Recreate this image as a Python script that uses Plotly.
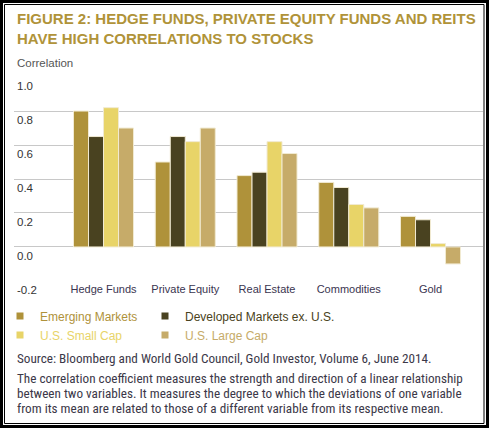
import plotly.graph_objects as go

categories = ["Hedge Funds", "Private Equity", "Real Estate", "Commodities", "Gold"]
series_names = ["Emerging Markets", "Developed Markets ex. U.S.", "U.S. Small Cap", "U.S. Large Cap"]
emerging = [0.80, 0.50, 0.42, 0.38, 0.18]
developed = [0.65, 0.65, 0.44, 0.35, 0.16]
small_cap = [0.82, 0.62, 0.62, 0.25, 0.02]
large_cap = [0.70, 0.70, 0.55, 0.23, -0.10]
series_values = [emerging, developed, small_cap, large_cap]
colors = ["#AF923A", "#494220", "#E8D468", "#C6AB69"]
legend_ids = ["legend", "legend2", "legend3", "legend4"]
ytick_vals = [1.0, 0.8, 0.6, 0.4, 0.2, 0.0, -0.2]
ytick_text = ["1.0", "0.8", "0.6", "0.4", "0.2", "0.0", "-0.2"]

title_lines = ["FIGURE 2: HEDGE FUNDS, PRIVATE EQUITY FUNDS AND REITS",
               "HAVE HIGH CORRELATIONS TO STOCKS"]
source_text = "Source: Bloomberg and World Gold Council, Gold Investor, Volume 6, June 2014."
note_lines = [
    "The correlation coefficient measures the strength and direction of a linear relationship",
    "between two variables. It measures the degree to which the deviations of one variable",
    "from its mean are related to those of a different variable from its respective mean.",
]

W, H = 489, 428
L, R, T, B = 14, 483, 77, 281


def px(x):
    return (x - L) / (R - L)


def py(y):
    return (B - y) / (B - T)


fig = go.Figure()
for name, vals, c in zip(series_names, series_values, colors):
    fig.add_trace(go.Bar(x=categories, y=vals, name=name, showlegend=False,
                         marker=dict(color=c, line=dict(color="#F1EAD2", width=1))))
for name, c, lg in zip(series_names, colors, legend_ids):
    fig.add_trace(go.Scatter(x=[None], y=[None], mode="markers", legend=lg,
                             name=f'<span style="color:{c}">{name}</span>',
                             marker=dict(symbol="square", size=7, color=c)))

narrow = "Roboto Condensed, Liberation Sans Narrow, DejaVu Sans Condensed, Roboto, sans-serif"
sans = "Liberation Sans, Arial, sans-serif"

annotations = []
for i, line in enumerate(title_lines):
    annotations.append(dict(x=px(15), y=py(19 + 19 * i), xref="paper", yref="paper", text=f"<b>{line}</b>",
                            showarrow=False, xanchor="left", yanchor="middle",
                            font=dict(family=sans, size=15, color="#B09339")))
for v, t in zip(ytick_vals, ytick_text):
    annotations.append(dict(x=px(15), y=v, xref="paper", yref="y", text=t, showarrow=False,
                            xanchor="left", yanchor="middle", yshift=-9,
                            font=dict(family=sans, size=11.5, color="#333333")))
annotations.append(dict(x=px(15), y=py(63), xref="paper", yref="paper", text="Correlation",
                        showarrow=False, xanchor="left", yanchor="middle",
                        font=dict(family=sans, size=11.5, color="#555555")))
annotations.append(dict(x=px(15), y=py(358), xref="paper", yref="paper", text=source_text,
                        showarrow=False, xanchor="left", yanchor="middle",
                        font=dict(family=narrow, size=13.2, color="#3B3848")))
for i, line in enumerate(note_lines):
    annotations.append(dict(x=px(15), y=py(378 + 15 * i), xref="paper", yref="paper", text=line,
                            showarrow=False, xanchor="left", yanchor="middle",
                            font=dict(family=narrow, size=13.2, color="#3B3848")))

shapes = [
    dict(type="rect", xref="paper", yref="paper", x0=px(1.5), x1=px(487.5), y0=py(1.5), y1=py(426.5),
         line=dict(color="black", width=3)),
    dict(type="rect", xref="paper", yref="paper", x0=px(4.5), x1=px(484), y0=py(4.5), y1=py(423.5),
         line=dict(color="black", width=1)),
]

legend_common = dict(orientation="h", xref="container", yref="container", xanchor="left",
                     yanchor="middle", font=dict(family=sans, size=12),
                     itemwidth=30, tracegroupgap=0, bgcolor="rgba(0,0,0,0)")
legend_pos = {"legend": (0, 316), "legend2": (145, 316), "legend3": (0, 335), "legend4": (145, 335)}
legend_layout = {k: dict(x=x / W, y=1 - y / H, **legend_common) for k, (x, y) in legend_pos.items()}

fig.update_layout(
    width=W, height=H,
    margin=dict(l=L, r=W - R, t=T, b=H - B, pad=0, autoexpand=False),
    paper_bgcolor="white", plot_bgcolor="white",
    barmode="group", bargap=0.266, bargroupgap=0,
    xaxis=dict(range=[-1.095, 4.642], showgrid=False, zeroline=False, showline=False,
               tickfont=dict(family=sans, size=11, color="#3A3550"), ticks=""),
    yaxis=dict(range=[-0.2005, 1.0005], tickvals=ytick_vals, showticklabels=False,
               showgrid=True, gridcolor="#C8C8C8", gridwidth=1, zeroline=False, showline=False),
    annotations=annotations,
    shapes=shapes,
    **legend_layout,
)

fig.write_html("out.html", config={"displayModeBar": False},
               post_script="document.body.style.margin='0';document.body.style.overflow='hidden';")
